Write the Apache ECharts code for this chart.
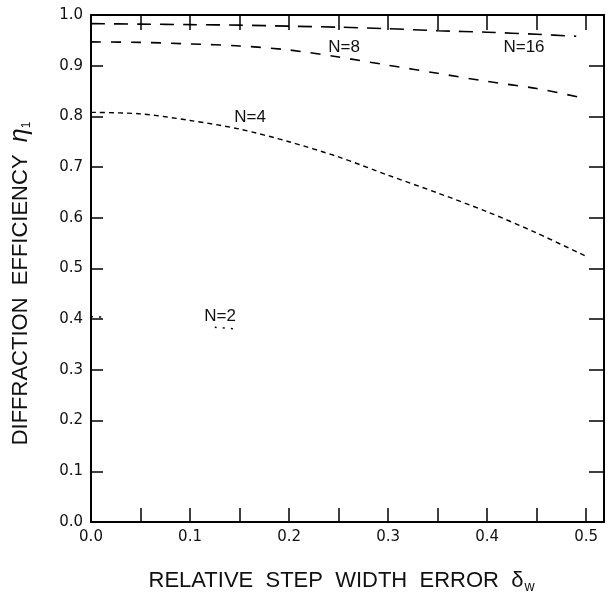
<!DOCTYPE html>
<html>
<head>
<meta charset="utf-8">
<script src="https://cdn.jsdelivr.net/npm/echarts@6/dist/echarts.min.js"></script>
<style>
  html, body { margin: 0; padding: 0; background: #fff; }
  #chart { width: 608px; height: 599px; }
</style>
</head>
<body>
<div id="chart"></div>
<script>
// values (eta vs relative step width error)
const xN16 = [0, 0.05, 0.1, 0.15, 0.2, 0.25, 0.3, 0.35, 0.4, 0.45, 0.49];
const yN16 = [0.983, 0.982, 0.981, 0.980, 0.978, 0.976, 0.973, 0.969, 0.966, 0.962, 0.958];

const xN8 = [0, 0.05, 0.1, 0.15, 0.2, 0.25, 0.3, 0.35, 0.4, 0.45, 0.495];
const yN8 = [0.947, 0.946, 0.943, 0.939, 0.931, 0.917, 0.901, 0.885, 0.869, 0.855, 0.837];

const xN4 = [0, 0.05, 0.1, 0.15, 0.2, 0.25, 0.3, 0.35, 0.4, 0.45, 0.5];
const yN4 = [0.808, 0.805, 0.792, 0.775, 0.750, 0.720, 0.684, 0.649, 0.612, 0.570, 0.524];

// N=2 is only faintly visible in the scan: two short fragments
const xN2 = [0, 0.015, 0.07, 0.125, 0.145];
const yN2 = [0.405, 0.404, null, 0.384, 0.381];

const xTicks = [0, 0.05, 0.1, 0.15, 0.2, 0.25, 0.3, 0.35, 0.4, 0.45, 0.5];
const xLabels = [0, 0.1, 0.2, 0.3, 0.4, 0.5];

const zip = (xs, ys) => xs.map((x, i) => [x, ys[i] == null ? '-' : ys[i]]);

const chart = echarts.init(document.getElementById('chart'));

// onZero off, otherwise top/right axes jump onto the other axis' zero
const axisLine = { show: true, onZero: false, lineStyle: { color: '#000', width: 2 } };
const tickLabel = { color: '#111', fontSize: 15, fontFamily: 'DejaVu Sans' };
const titleFont = { color: '#111', fontSize: 22, fontFamily: 'Liberation Sans' };

const curve = (name, data, dash, width) => ({
  name,
  type: 'line',
  data,
  smooth: 0.3,
  showSymbol: false,
  connectNulls: false,
  lineStyle: { color: '#000', width, type: dash },
  silent: true,
});

const curveLabels = [
  { text: 'N=16', x: 524, y: 47 },
  { text: 'N=8', x: 344, y: 47 },
  { text: 'N=4', x: 250, y: 117 },
  { text: 'N=2', x: 220, y: 316 },
];

chart.setOption({
  animation: false,
  backgroundColor: '#fff',
  grid: { left: 89, right: 4, top: 15, bottom: 69, containLabel: false },
  xAxis: [
    {
      type: 'value', position: 'bottom', min: 0, max: 0.518,
      axisLine,
      axisTick: { inside: true, length: 14, customValues: xTicks, lineStyle: { color: '#000', width: 1.5 } },
      axisLabel: { ...tickLabel, margin: 8, customValues: xLabels, formatter: v => v.toFixed(1) },
      splitLine: { show: false },
      name: '{t|RELATIVE  STEP  WIDTH  ERROR  δ}{s|w}',
      nameLocation: 'middle',
      nameGap: 46,
      nameTextStyle: {
        padding: [0, 12, 0, 0],
        rich: {
          t: { ...titleFont },
          s: { ...titleFont, fontSize: 14, padding: [12, 0, 0, 1] },
        },
      },
    },
    {
      type: 'value', position: 'top', min: 0, max: 0.518,
      axisLine,
      axisTick: { inside: true, length: 15, customValues: xTicks, lineStyle: { color: '#000', width: 1.5 } },
      axisLabel: { show: false },
      splitLine: { show: false },
    },
  ],
  yAxis: [
    {
      type: 'value', position: 'left', min: 0, max: 1, interval: 0.1,
      axisLine,
      axisTick: { inside: true, length: 12, lineStyle: { color: '#000', width: 1.5 } },
      axisLabel: { ...tickLabel, margin: 8, formatter: v => v.toFixed(1) },
      splitLine: { show: false },
      name: '{t|DIFFRACTION  EFFICIENCY  }{e|η}{s|1}',
      nameLocation: 'middle',
      nameGap: 58,
      nameTextStyle: {
        padding: [0, 30, 0, 0],
        rich: {
          t: { ...titleFont },
          e: { ...titleFont, fontSize: 25, fontStyle: 'italic' },
          s: { ...titleFont, fontSize: 12, padding: [12, 0, 0, 0] },
        },
      },
    },
    {
      type: 'value', position: 'right', min: 0, max: 1, interval: 0.1,
      axisLine,
      axisTick: { inside: true, length: 15, lineStyle: { color: '#000', width: 1.5 } },
      axisLabel: { show: false },
      splitLine: { show: false },
    },
  ],
  series: [
    curve('N=16', zip(xN16, yN16), [14, 9], 1.6),
    curve('N=8', zip(xN8, yN8), [10, 10], 1.6),
    curve('N=4', zip(xN4, yN4), [5, 4], 1.4),
    curve('N=2', zip(xN2, yN2), [2, 6], 1.4),
  ],
  graphic: curveLabels.map(l => ({
    type: 'text',
    x: l.x, y: l.y,
    style: {
      text: l.text, fill: '#111', fontSize: 17, fontFamily: 'Liberation Sans',
      align: 'center', verticalAlign: 'middle',
    },
  })),
});
</script>
</body>
</html>
